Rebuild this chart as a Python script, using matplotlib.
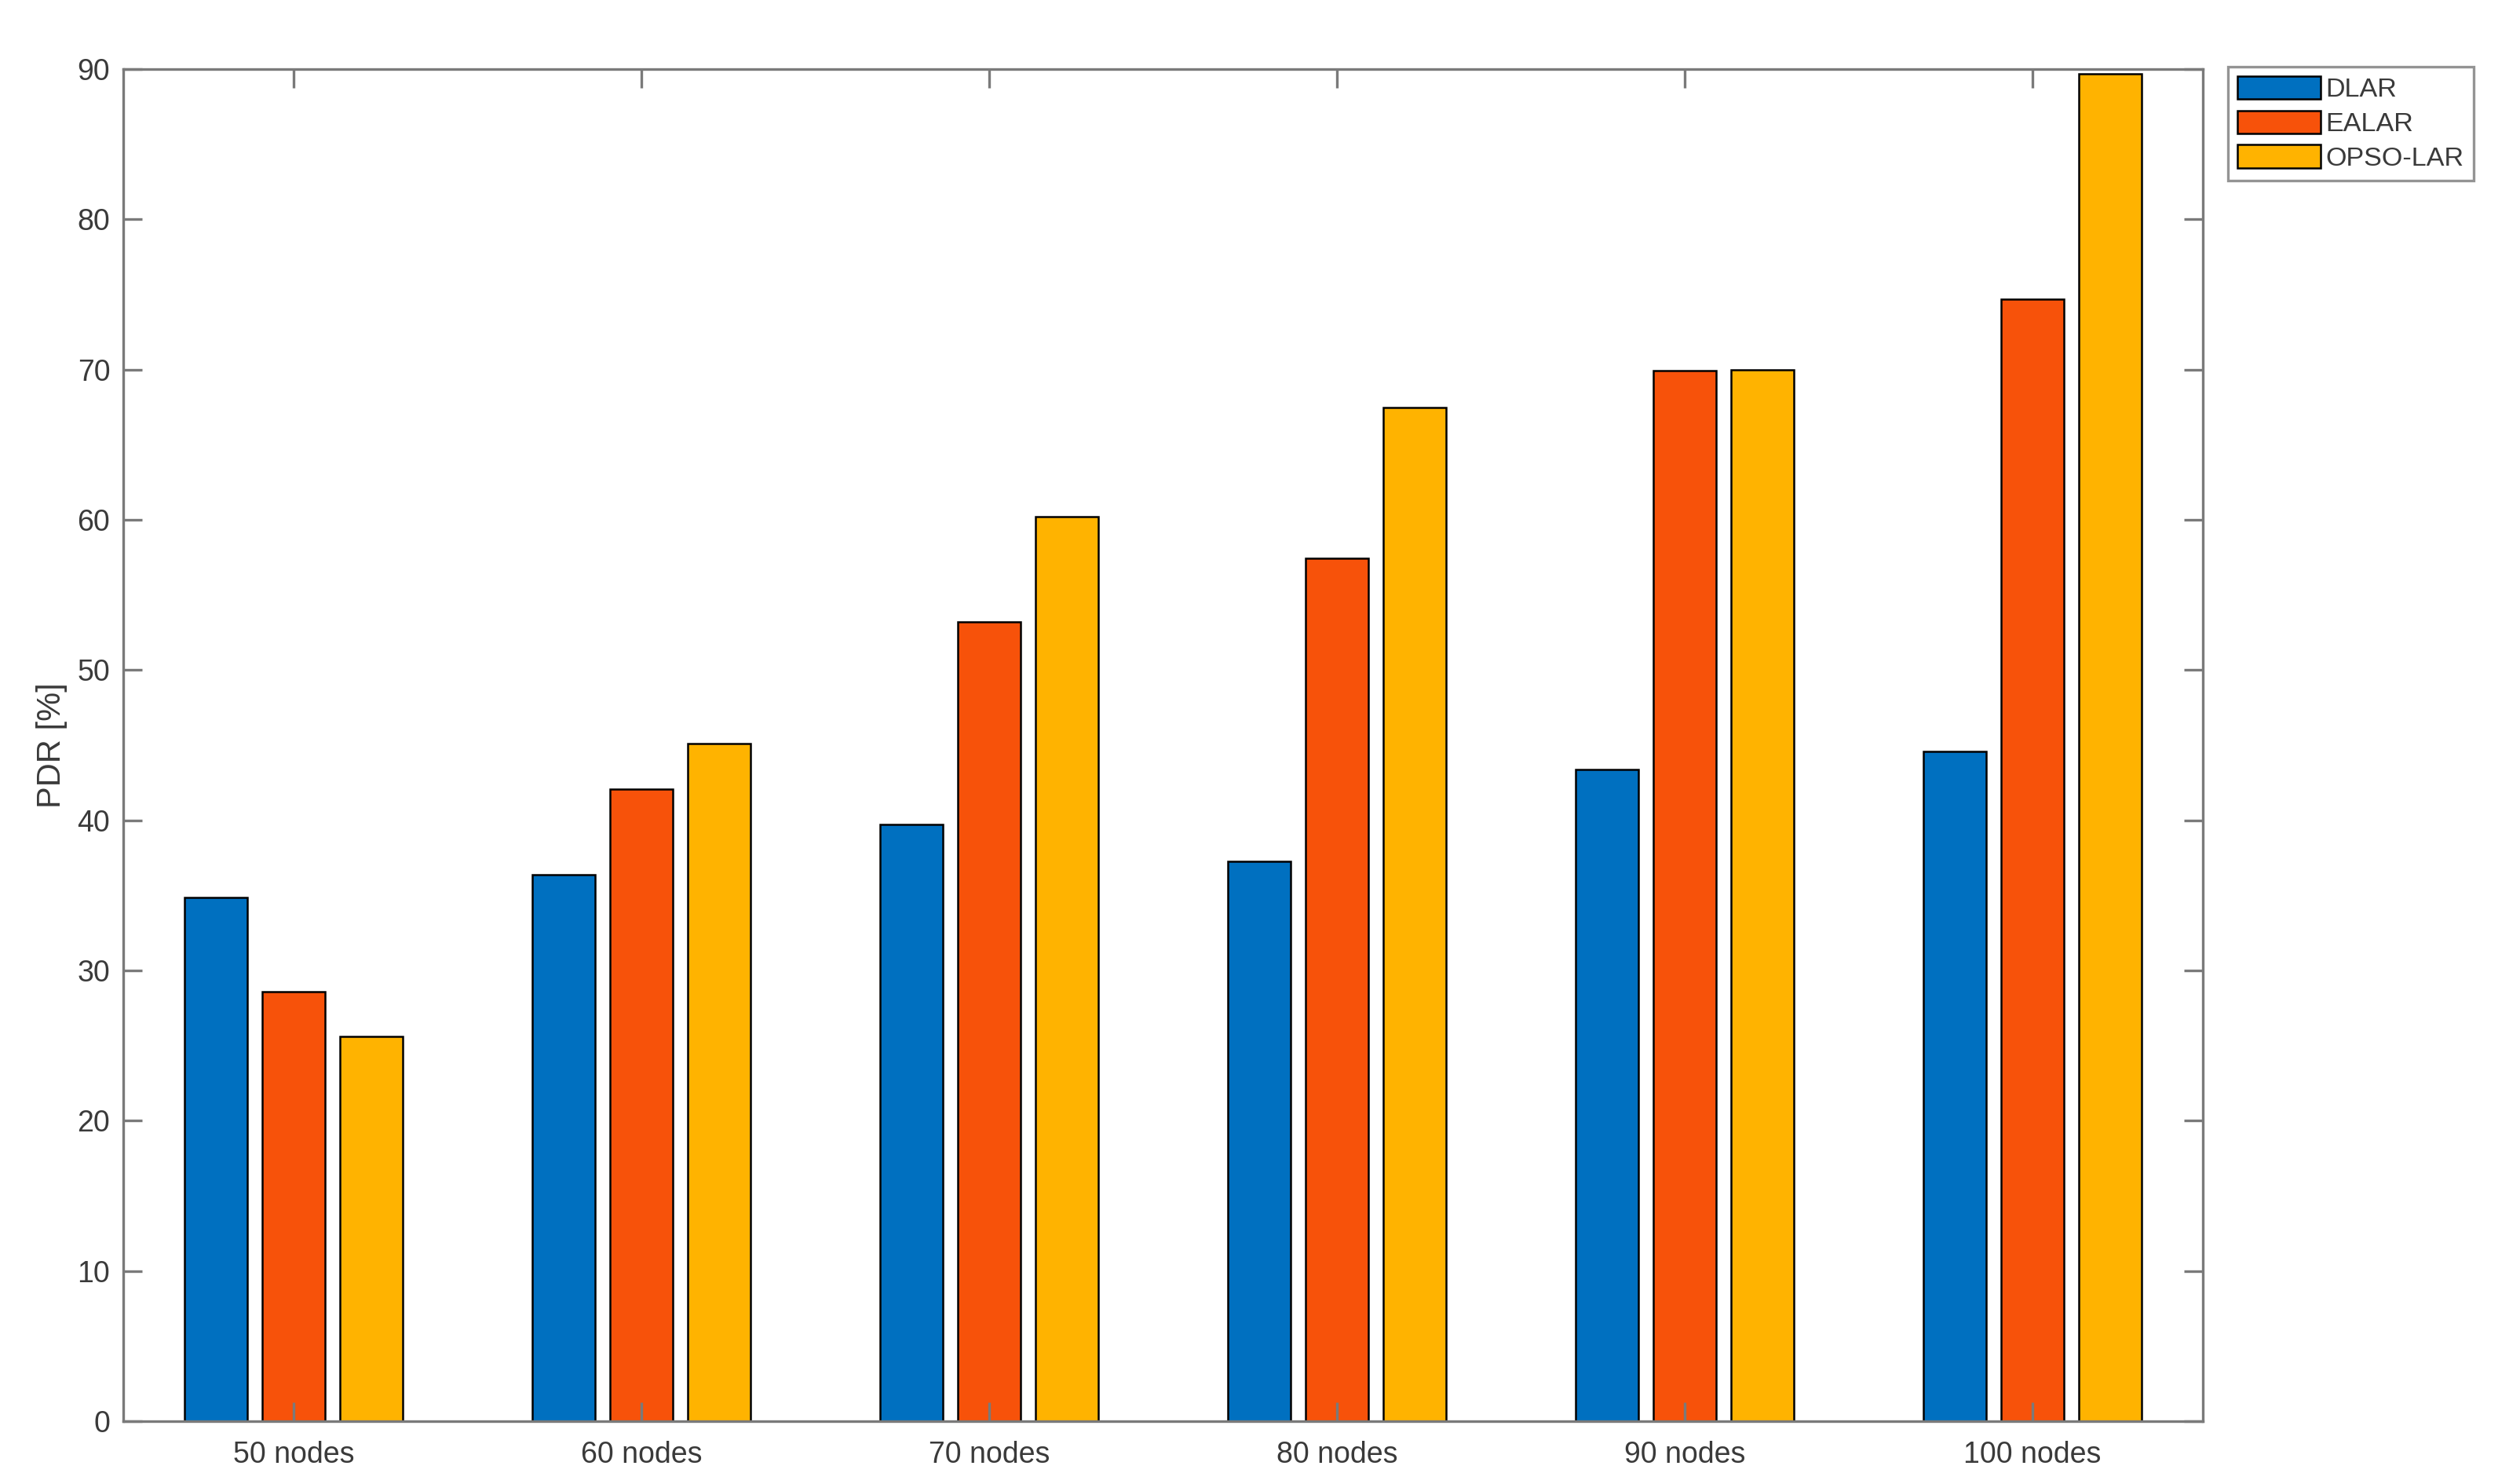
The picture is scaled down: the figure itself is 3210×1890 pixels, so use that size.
import numpy as np
import matplotlib
matplotlib.use("Agg")
import matplotlib.pyplot as plt

#-----------------------------------------------------------------------------
# data
groups = ["50 nodes", "60 nodes", "70 nodes", "80 nodes", "90 nodes", "100 nodes"]
dlar = [34.85, 36.4, 39.7, 37.25, 43.4, 44.6]
ealar = [28.6, 42.1, 53.2, 57.45, 69.95, 74.7]
opso_lar = [25.6, 45.1, 60.2, 67.5, 70.0, 89.7]
series_names = ["DLAR", "EALAR", "OPSO-LAR"]
colors = ["#0070C0", "#F7520A", "#FFB300"]

yticks = np.arange(0, 91, 10)

#-----------------------------------------------------------------------------
plt.rcParams['font.family'] = ['Liberation Sans', 'DejaVu Sans']
axis_gray = "#7a7a7a"
text_gray = "#3a3a3a"

fig = plt.figure(figsize=(10.7, 6.3), dpi=300)
ax = fig.add_axes([0.0489, 0.0423, 0.8252, 0.9111])

x = np.arange(1, len(groups) + 1)
offset = 0.2235
width = 0.18
for k, vals in enumerate([dlar, ealar, opso_lar]):
    ax.bar(x + (k - 1) * offset, vals, width=width, color=colors[k],
           edgecolor="black", linewidth=0.6, label=series_names[k])

ax.set_xlim(0.51, 6.49)
ax.set_ylim(0, 90)
ax.set_xticks(x)
ax.set_xticklabels(groups)
ax.set_yticks(yticks)
ax.set_ylabel("PDR [%]", fontsize=10, color=text_gray, labelpad=3)

for s in ax.spines.values():
    s.set_color(axis_gray)
    s.set_linewidth(0.8)
ax.tick_params(direction="in", length=5.8, width=0.8, color=axis_gray,
               labelcolor=text_gray, labelsize=9,
               top=True, right=True)
ax.tick_params(axis="x", pad=6)
ax.tick_params(axis="y", pad=4)

leg = ax.legend(loc="upper left", bbox_to_anchor=(0.8841, 0.955),
                bbox_transform=fig.transFigure, fontsize=8.2,
                frameon=True, fancybox=False, handlelength=3.1,
                handleheight=0.95, handletextpad=0.2, labelspacing=0.3,
                borderpad=0.35, borderaxespad=0)
leg.get_frame().set_edgecolor(axis_gray)
leg.get_frame().set_linewidth(0.8)
for t in leg.get_texts():
    t.set_color(text_gray)

fig.savefig("out.png", dpi=300)
